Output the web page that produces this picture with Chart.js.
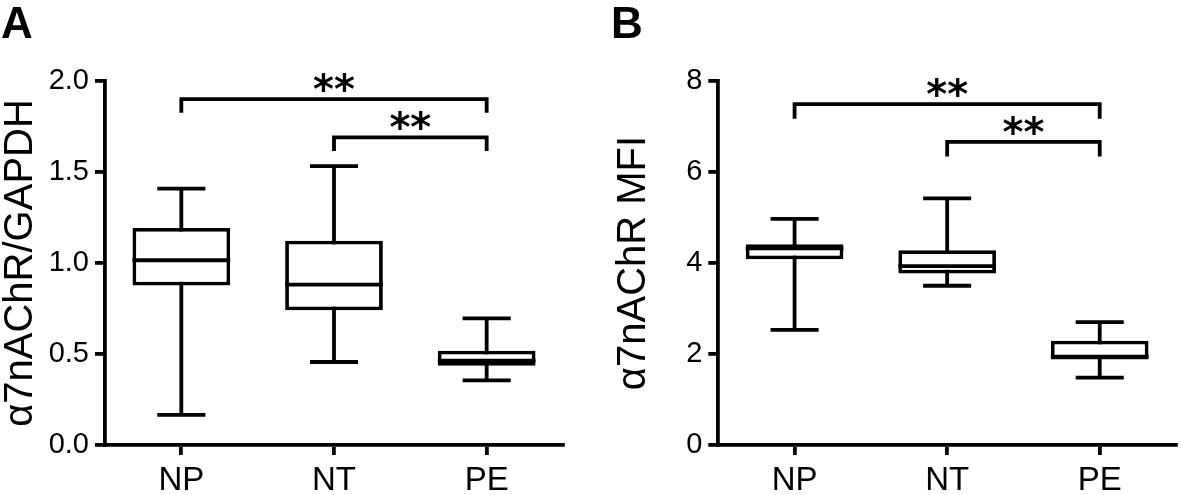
<!DOCTYPE html>
<html><head><meta charset="utf-8">
<script src="https://cdn.jsdelivr.net/npm/chart.js@4"></script>
<style>
html,body{margin:0;padding:0;background:#fff;width:1181px;height:495px;overflow:hidden;}
canvas{position:absolute;top:0;}
#cA{left:0px;} #cB{left:613px;}
</style></head><body>
<canvas id="cA" width="590" height="495"></canvas>
<canvas id="cB" width="568" height="495"></canvas>
<script>
// ---------- data ----------
const categories = ['NP', 'NT', 'PE'];

// Panel A: α7nAChR/GAPDH
const aMin    = [0.165, 0.456, 0.355];
const aQ1     = [0.876, 0.740, 0.435];
const aMedian = [1.015, 0.881, 0.463];
const aQ3     = [1.192, 1.122, 0.518];
const aMax    = [1.409, 1.532, 0.696];
const aTickValues = [0, 0.5, 1.0, 1.5, 2.0];
const aTickLabels = ['0.0', '0.5', '1.0', '1.5', '2.0'];
const aBracketFrom  = [0, 1];
const aBracketTo    = [2, 2];
const aBracketLevel = [1.90, 1.69];
const aBracketEnd   = [1.825, 1.615];
const aBracketText  = ['**', '**'];

// Panel B: α7nAChR MFI
const bMin    = [2.53, 3.50, 1.48];
const bQ1     = [4.08, 3.77, 1.88];
const bMedian = [4.32, 3.93, 1.94];
const bQ3     = [4.41, 4.28, 2.29];
const bMax    = [4.97, 5.42, 2.70];
const bTickValues = [0, 2, 4, 6, 8];
const bTickLabels = ['0', '2', '4', '6', '8'];
const bBracketFrom  = [0, 1];
const bBracketTo    = [2, 2];
const bBracketLevel = [7.49, 6.66];
const bBracketEnd   = [7.17, 6.34];
const bBracketText  = ['**', '**'];

// ---------- helpers ----------
const FONT = '"Liberation Sans", Arial, Helvetica, sans-serif';
const LW = 3.8;

function extrasPlugin(d) {
  return {
    id: 'boxExtras',
    beforeDatasetsDraw(chart) {
      const {ctx, scales: {x, y}} = chart;
      const cw = x.getPixelForValue(1) - x.getPixelForValue(0);
      const hw = cw * 0.315 / 2;
      ctx.save();
      ctx.strokeStyle = '#000';
      ctx.lineWidth = LW;
      d.min.forEach((mn, i) => {
        const cx = x.getPixelForValue(i);
        const y0 = y.getPixelForValue(mn), y1 = y.getPixelForValue(d.max[i]);
        ctx.beginPath();
        ctx.moveTo(cx, y0); ctx.lineTo(cx, y1);
        ctx.moveTo(cx - hw, y0); ctx.lineTo(cx + hw, y0);
        ctx.moveTo(cx - hw, y1); ctx.lineTo(cx + hw, y1);
        ctx.stroke();
      });
      ctx.restore();
    },
    afterDatasetsDraw(chart) {
      const {ctx, scales: {x, y}} = chart;
      const meta = chart.getDatasetMeta(0);
      ctx.save();
      ctx.strokeStyle = '#000';
      ctx.lineWidth = LW;
      // medians
      d.median.forEach((m, i) => {
        const bar = meta.data[i];
        const py = y.getPixelForValue(m);
        ctx.beginPath();
        ctx.moveTo(bar.x - bar.width / 2, py);
        ctx.lineTo(bar.x + bar.width / 2, py);
        ctx.stroke();
      });
      // significance brackets
      ctx.font = 'bold 40px "DejaVu Sans", sans-serif';
      ctx.fillStyle = '#000';
      ctx.textAlign = 'center';
      d.bFrom.forEach((f, i) => {
        const x0 = x.getPixelForValue(f), x1 = x.getPixelForValue(d.bTo[i]);
        const yl = y.getPixelForValue(d.bLevel[i]), ye = y.getPixelForValue(d.bEnd[i]);
        ctx.beginPath();
        ctx.moveTo(x0, ye); ctx.lineTo(x0, yl); ctx.lineTo(x1, yl); ctx.lineTo(x1, ye);
        ctx.stroke();
        const m = ctx.measureText(d.bText[i]);
        const cy = yl - 17;
        const base = cy + (m.actualBoundingBoxAscent - m.actualBoundingBoxDescent) / 2;
        ctx.fillText(d.bText[i], (x0 + x1) / 2, base);
      });
      ctx.restore();
    },
    afterDraw(chart) {
      const ctx = chart.ctx;
      ctx.save();
      ctx.font = 'bold 44px ' + FONT;
      ctx.fillStyle = '#000';
      ctx.textAlign = 'left';
      ctx.textBaseline = 'alphabetic';
      ctx.fillText(d.letter, d.letterX, 38);
      ctx.restore();
    }
  };
}

function makeChart(id, cfg) {
  const data = {
    labels: categories,
    datasets: [{
      data: categories.map((c, i) => [cfg.q1[i], cfg.q3[i]]),
      backgroundColor: '#ffffff',
      borderColor: '#000000',
      borderWidth: LW,
      borderSkipped: false,
      barPercentage: 0.64,
      categoryPercentage: 1.0
    }]
  };
  return new Chart(document.getElementById(id), {
    type: 'bar',
    data,
    plugins: [extrasPlugin(cfg)],
    options: {
      responsive: false,
      animation: false,
      events: [],
      layout: {padding: {left: 0, right: cfg.padRight, top: 81, bottom: 0}},
      plugins: {legend: {display: false}, tooltip: {enabled: false}},
      scales: {
        x: {
          type: 'category',
          offset: true,
          afterFit: s => { s.height = 50; },
          grid: {offset: false, drawOnChartArea: false, drawTicks: true, tickLength: 10, lineWidth: LW, color: '#000'},
          border: {display: true, color: '#000', width: LW},
          ticks: {color: '#000', padding: 6, font: {family: FONT, size: 33}}
        },
        y: {
          min: cfg.tickValues[0],
          max: cfg.tickValues[cfg.tickValues.length - 1],
          afterFit: s => { s.width = cfg.yWidth; },
          afterBuildTicks: s => { s.ticks = cfg.tickValues.map(v => ({value: v})); },
          grid: {drawOnChartArea: false, drawTicks: true, tickLength: 10, lineWidth: LW, color: '#000'},
          border: {display: true, color: '#000', width: LW},
          ticks: {color: '#000', padding: 6, font: {family: FONT, size: 29},
                  callback: (v, i) => cfg.tickLabels[i]},
          title: {display: true, text: cfg.title, color: '#000', padding: 0,
                  font: {family: FONT, size: 40, lineHeight: 1.05}}
        }
      }
    }
  });
}

makeChart('cA', {
  min: aMin, q1: aQ1, median: aMedian, q3: aQ3, max: aMax,
  tickValues: aTickValues, tickLabels: aTickLabels,
  bFrom: aBracketFrom, bTo: aBracketTo, bLevel: aBracketLevel, bEnd: aBracketEnd, bText: aBracketText,
  title: 'α7nAChR/GAPDH', letter: 'A', letterX: 1, yWidth: 105, padRight: 27
});
makeChart('cB', {
  min: bMin, q1: bQ1, median: bMedian, q3: bQ3, max: bMax,
  tickValues: bTickValues, tickLabels: bTickLabels,
  bFrom: bBracketFrom, bTo: bBracketTo, bLevel: bBracketLevel, bEnd: bBracketEnd, bText: bBracketText,
  title: 'α7nAChR MFI', letter: 'B', letterX: -2, yWidth: 105.3, padRight: 5
});
</script>
</body></html>
